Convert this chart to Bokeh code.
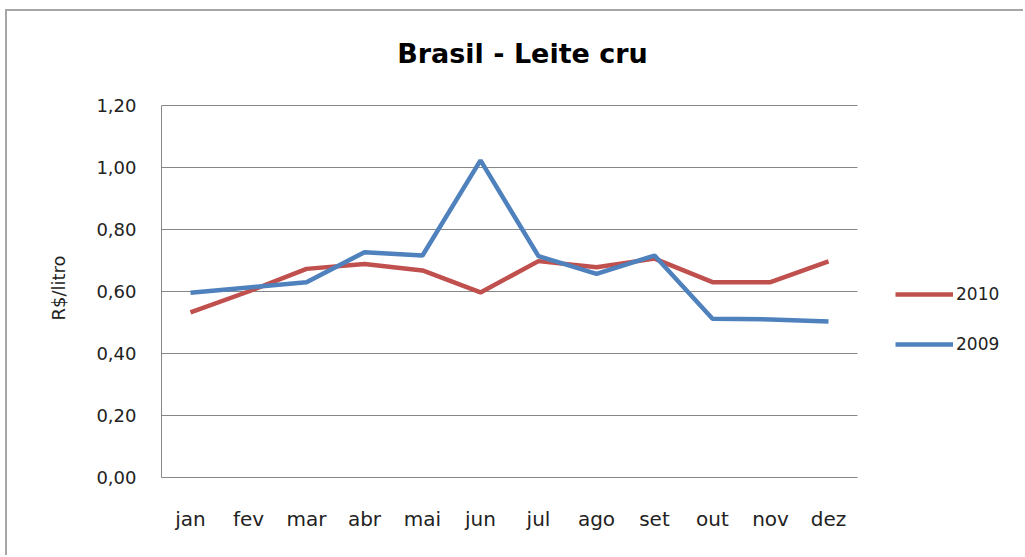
from bokeh.plotting import figure
from bokeh.models import Range1d, Legend, LegendItem, CustomJSTickFormatter, FixedTicker, Label, Title
from bokeh.embed import file_html
from bokeh.resources import INLINE

months = ["jan", "fev", "mar", "abr", "mai", "jun", "jul", "ago", "set", "out", "nov", "dez"]
v2010 = [0.533, 0.600, 0.673, 0.689, 0.668, 0.597, 0.698, 0.678, 0.706, 0.630, 0.630, 0.697]
v2009 = [0.596, 0.613, 0.630, 0.727, 0.716, 1.023, 0.714, 0.657, 0.716, 0.512, 0.510, 0.503]
yticks = [0.0, 0.2, 0.4, 0.6, 0.8, 1.0, 1.2]
title_text = "Brasil - Leite cru"
y_label = "R$/litro"

FONT = "DejaVu Sans"
GRAY = "#878787"
TXT = "#222222"

# layout constants (pixels)
W, H = 1018, 546
LEFT, BOTTOM = 154, 80
PX_CAT = 58.0          # width of one month slot
PX_UNIT = 310.0        # pixels per R$ unit
PLOT_TOP = 94          # canvas y of the 1,20 gridline

ncat = len(months)
xs = list(range(ncat))
x_lo = -0.5
x_hi = x_lo + (W - LEFT) / PX_CAT
y_top = yticks[-1] + PLOT_TOP / PX_UNIT

p = figure(width=W, height=H, x_range=Range1d(x_lo, x_hi), y_range=Range1d(0, y_top),
           output_backend="svg", toolbar_location=None,
           min_border_left=LEFT, min_border_right=0, min_border_top=0, min_border_bottom=BOTTOM)
p.styles = {"margin-left": "5px", "margin-top": "9px",
            "border-top": "2px solid #a6a6a6", "border-left": "2px solid #a6a6a6"}
p.outline_line_color = None
p.xgrid.grid_line_color = None
p.ygrid.grid_line_color = None

# horizontal gridlines over the month span only
p.segment(x0=[x_lo] * len(yticks), x1=[ncat - 0.5] * len(yticks), y0=yticks, y1=yticks,
          line_color=GRAY, line_width=1)

p.yaxis.ticker = FixedTicker(ticks=yticks)
p.yaxis.formatter = CustomJSTickFormatter(code="return tick.toFixed(2).replace('.', ',');")
p.yaxis.bounds = (yticks[0], yticks[-1])
p.yaxis.major_label_standoff = 25

p.xaxis.ticker = FixedTicker(ticks=xs)
p.xaxis.formatter = CustomJSTickFormatter(args=dict(months=months),
                                          code="return months[Math.round(tick)];")
p.xaxis.bounds = (x_lo, ncat - 0.5)

for ax in (p.xaxis, p.yaxis):
    ax.axis_line_color = GRAY
    ax.major_tick_line_color = None
    ax.minor_tick_line_color = None
    ax.major_tick_out = 0
    ax.major_tick_in = 0
    ax.major_label_text_font = FONT
    ax.major_label_text_color = TXT
p.yaxis.major_label_text_font_size = "18px"
p.xaxis.major_label_text_font_size = "20px"
p.xaxis.major_label_standoff = 29

# y axis title, centred on the 0-1,20 span
p.add_layout(Title(text=y_label, align="left", offset=157, standoff=50,
                   text_font=FONT, text_font_size="18px", text_font_style="normal",
                   text_color=TXT), "left")

r10 = p.line(xs, v2010, line_color="#C0504D", line_width=4.5)
r09 = p.line(xs, v2009, line_color="#4F81BD", line_width=4.5)

# chart title, centred over the chart
p.add_layout(Label(x=x_lo + 361 / PX_CAT, y=yticks[-1] + 52 / PX_UNIT, text=title_text,
                   text_font=FONT, text_font_size="27px", text_font_style="bold",
                   text_color="#000000", text_align="center", text_baseline="middle"))

legend = Legend(items=[LegendItem(label="2010", renderers=[r10]),
                       LegendItem(label="2009", renderers=[r09])],
                location=(734, 123), padding=0, margin=0, spacing=30,
                glyph_width=58, glyph_height=20, label_height=20, label_standoff=3,
                label_text_font=FONT, label_text_font_size="17px", label_text_color=TXT,
                border_line_color=None, background_fill_alpha=0)
p.add_layout(legend)

open("out.html", "w").write(file_html(p, INLINE))
